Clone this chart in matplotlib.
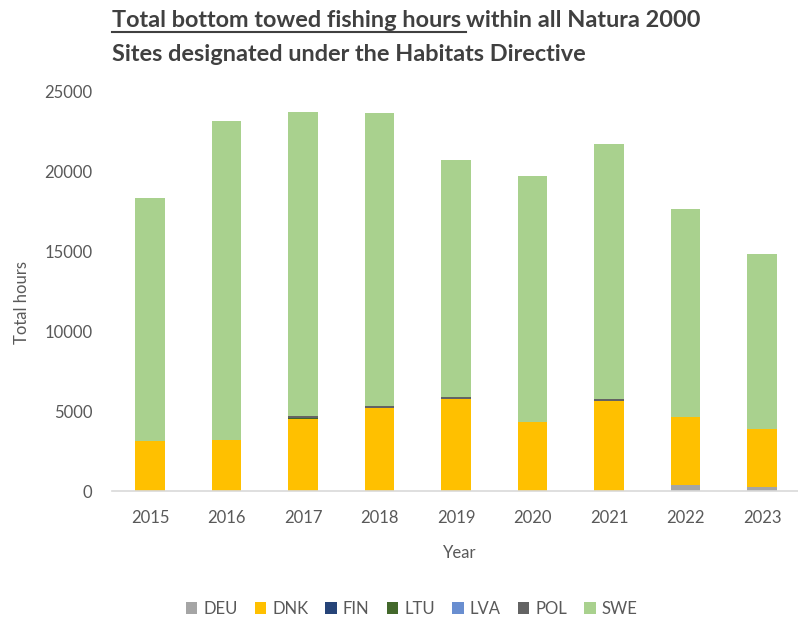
import matplotlib
matplotlib.use("Agg")
import matplotlib.pyplot as plt
from matplotlib.lines import Line2D
import numpy as np

years = ["2015", "2016", "2017", "2018", "2019", "2020", "2021", "2022", "2023"]
deu = [0, 0, 0, 0, 0, 0, 0, 400, 250]
dnk = [3100, 3200, 4500, 5200, 5750, 4300, 5650, 4200, 3650]
fin = [0, 0, 0, 0, 0, 0, 0, 0, 0]
ltu = [0, 0, 50, 0, 0, 0, 0, 0, 0]
lva = [0, 0, 0, 0, 0, 0, 0, 0, 0]
pol = [0, 0, 150, 100, 150, 0, 100, 0, 0]
swe = [15200, 19900, 19000, 18300, 14800, 15400, 15950, 13000, 10900]

series = [("DEU", deu, "#A5A5A5"), ("DNK", dnk, "#FFC000"), ("FIN", fin, "#264478"),
          ("LTU", ltu, "#43682B"), ("LVA", lva, "#698ED0"), ("POL", pol, "#636363"),
          ("SWE", swe, "#A9D18E")]

plt.rcParams['font.family'] = ['Lato', 'DejaVu Sans']
W, H = 798, 626
fig = plt.figure(figsize=(W / 100, H / 100), dpi=100)

left_px, bottom_px, top_px = 111.75, 491, 91
ax = fig.add_axes([left_px / W, (H - bottom_px) / H, (W - left_px) / W, (bottom_px - top_px) / H])

x = np.arange(len(years))
base = np.zeros(len(years))
for name, vals, col in series:
    v = np.array(vals, dtype=float)
    ax.bar(x, v, width=0.39, bottom=base, color=col, linewidth=0, label=name)
    base += v

ax.set_xlim(-0.5, 8.5 - 2.25 / 76.5)
ax.set_ylim(0, 25000)
ax.set_yticks(np.arange(0, 25001, 5000))
ax.set_xticks(x)
ax.set_xticklabels(years)
for s in ["top", "right", "left"]:
    ax.spines[s].set_visible(False)
ax.spines["bottom"].set_color("#D9D9D9")
ax.spines["bottom"].set_linewidth(1.2)
ax.tick_params(axis="both", length=0, labelsize=12, labelcolor="#595959")
ax.tick_params(axis="x", pad=14)
ax.tick_params(axis="y", pad=14)

fig.text(460 / W, 1 - 553 / H, "Year", ha="center", va="center", fontsize=12, color="#595959")
fig.text(22 / W, 1 - 303 / H, "Total hours", ha="center", va="center", rotation=90,
         fontsize=12, color="#595959")

# Title with underlined lead phrase
tcol = "#404040"
tsize = 16.9
x0 = 112 / W
t1 = fig.text(x0, 1 - 27 / H, "Total bottom towed fishing hours", fontsize=tsize,
              fontweight="bold", color=tcol, va="baseline", ha="left")
fig.canvas.draw()
r = fig.canvas.get_renderer()
bb = t1.get_window_extent(renderer=r)
space_px = 5
fig.add_artist(Line2D([bb.x0 / W, (bb.x1 + space_px) / W],
                      [1 - 31.5 / H, 1 - 31.5 / H], color=tcol, linewidth=1.5))
fig.text((bb.x1 + space_px) / W, 1 - 27 / H, "within all Natura 2000", fontsize=tsize,
         fontweight="bold", color=tcol, va="baseline", ha="left")
fig.text(x0, 1 - 61 / H, "Sites designated under the Habitats Directive", fontsize=tsize,
         fontweight="bold", color=tcol, va="baseline", ha="left")

handles, labels = ax.get_legend_handles_labels()
leg = fig.legend(handles, labels, loc="center", bbox_to_anchor=(411.5 / W, 1 - 609 / H),
                 ncol=7, frameon=False, fontsize=12, handlelength=0.7, handleheight=0.7,
                 handletextpad=0.35, columnspacing=1.03)
for t in leg.get_texts():
    t.set_color("#595959")

fig.savefig("out.png", dpi=100, facecolor="white")
